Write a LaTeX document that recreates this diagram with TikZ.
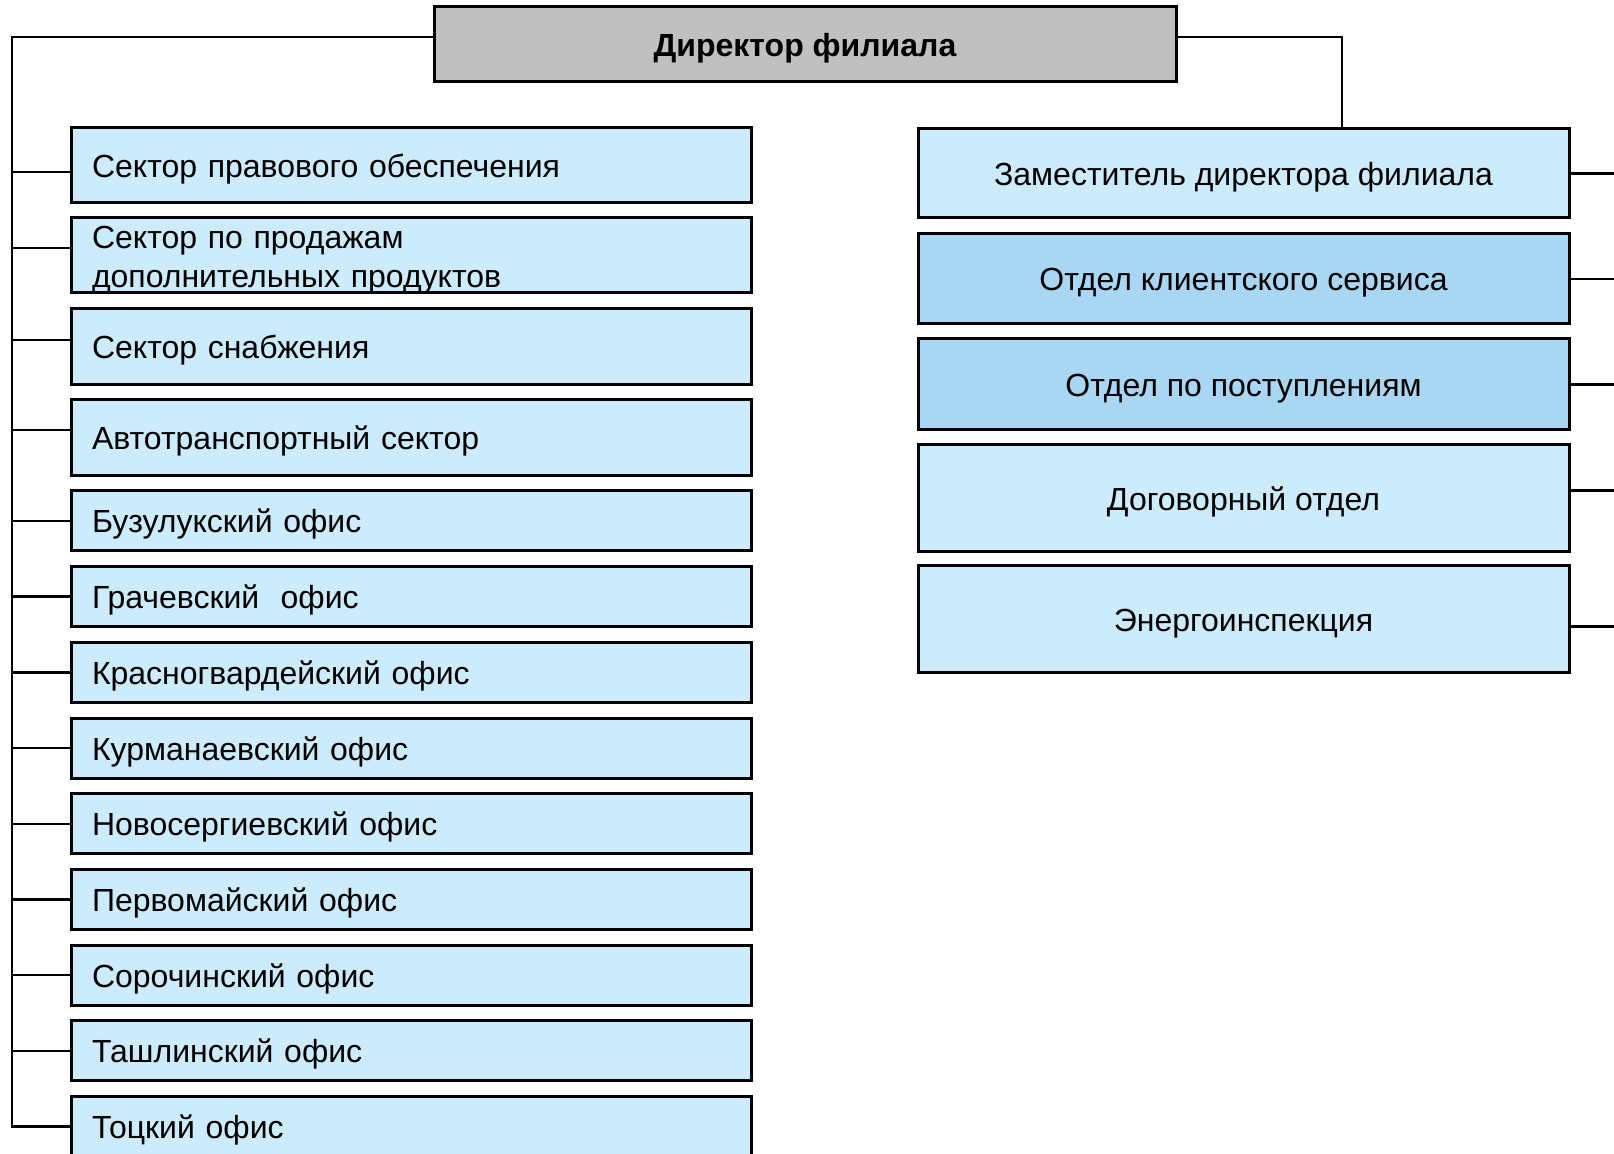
\documentclass[tikz,border=0pt]{standalone}
\usepackage{fontspec}
\setmainfont{Liberation Sans}
\definecolor{lblue}{HTML}{CCEBFC}
\definecolor{mblue}{HTML}{A9D6F3}
\definecolor{dgray}{HTML}{C0C0C0}
\begin{document}
\begin{tikzpicture}[x=0.5pt,y=-0.5pt,
  box/.style={draw=black,line width=1.5pt,inner sep=0pt,font=\fontsize{16}{19.5}\selectfont},
  tx/.style={text height=14pt,text depth=2pt},
  lbox/.style={box,fill=lblue,minimum width=340pt,text width=319pt,align=left,inner xsep=10.5pt},
  rbox/.style={box,tx,fill=lblue,minimum width=325.5pt,align=center},
  rdbox/.style={rbox,fill=mblue},
  conn/.style={draw=black,line width=1.2pt}]
\useasboundingbox (0,0) rectangle (1614,1154);
% director
\node[box,tx,fill=dgray,minimum width=371pt,minimum height=37.5pt,font=\fontsize{16}{19.5}\selectfont\bfseries] (dir) at (805,44.5) {Директор филиала};
% left column
\node[lbox,tx,minimum height=37.5pt] (b1) at (411,165.5) {Сектор правового обеспечения};
\node[lbox,minimum height=37.5pt] (b2) at (411,255.5) {\raisebox{0pt}[\dimexpr\height+1.6pt\relax][\dimexpr\depth-3.6pt\relax]{\begin{tabular}{@{}l@{}}Сектор по продажам\\дополнительных продуктов\end{tabular}}};
\node[lbox,tx,minimum height=38pt] (b3) at (411,347) {Сектор снабжения};
\node[lbox,tx,minimum height=38pt] (b4) at (411,438) {Автотранспортный сектор};
\node[lbox,tx,minimum height=30pt] (b5) at (411,521) {Бузулукский офис};
\node[lbox,tx,minimum height=30pt] (b6) at (411,596.7) {Грачевский\ \ офис};
\node[lbox,tx,minimum height=30pt] (b7) at (411,672.4) {Красногвардейский офис};
\node[lbox,tx,minimum height=30pt] (b8) at (411,748.1) {Курманаевский офис};
\node[lbox,tx,minimum height=30pt] (b9) at (411,823.8) {Новосергиевский офис};
\node[lbox,tx,minimum height=30pt] (b10) at (411,899.5) {Первомайский офис};
\node[lbox,tx,minimum height=30pt] (b11) at (411,975.2) {Сорочинский офис};
\node[lbox,tx,minimum height=30pt] (b12) at (411,1050.9) {Ташлинский офис};
\node[lbox,tx,minimum height=30pt] (b13) at (411,1126.6) {Тоцкий офис};
% right column
\node[rbox,minimum height=44.5pt] (r1) at (1243.5,173.5) {Заместитель директора филиала};
\node[rdbox,minimum height=45pt] (r2) at (1243.5,279) {Отдел клиентского сервиса};
\node[rdbox,minimum height=45.5pt] (r3) at (1243.5,384.5) {Отдел по поступлениям};
\node[rbox,minimum height=53.5pt] (r4) at (1243.5,498.5) {Договорный отдел};
\node[rbox,minimum height=53.5pt] (r5) at (1243.5,619.5) {Энергоинспекция};
% connectors
\coordinate (trunk) at (12,37);
\coordinate (rj) at (1342,37);
\coordinate (redge) at (1614,0);
\draw[conn] (dir.west |- trunk) -- (trunk) -- (trunk |- b13.west) -- (b13.west);
\foreach \n/\s in {b1/-3.25,b2/3.75,b3/3.5,b4/4,b5/0,b6/0,b7/0,b8/0,b9/0,b10/0,b11/0,b12/0}
  \draw[conn] ([yshift=\s pt]\n.west) -- ([yshift=\s pt]\n.west -| trunk);
\draw[conn] (dir.east |- rj) -- (rj) -- (rj |- r1.north);
\foreach \n/\s in {r1/0,r2/0,r3/0,r4/4,r5/-3.5}
  \draw[conn] ([yshift=\s pt]\n.east) -- ([yshift=\s pt]\n.east -| redge);
\end{tikzpicture}
\end{document}
